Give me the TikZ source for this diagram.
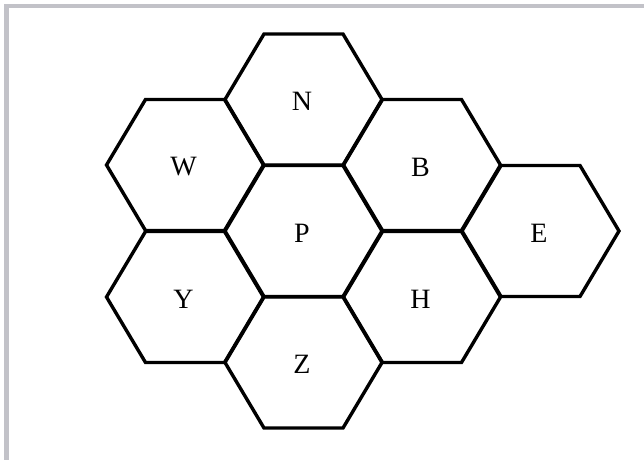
\documentclass[tikz,border=0pt]{standalone}
\usepackage{fontspec}
\setmainfont{Liberation Serif}
\definecolor{framegray}{RGB}{194,194,200}
\begin{document}
\begin{tikzpicture}[x=1pt,y=-1pt,
  hexline/.style={line width=3.4pt, line join=miter},
  lbl/.style={font=\fontsize{28}{28}\selectfont, inner sep=0pt}]
\useasboundingbox (0,0) rectangle (644,460);
\fill[white] (0,0) rectangle (644,460);
\fill[framegray] (4,4) rectangle (644,8.5);
\fill[framegray] (4,4) rectangle (8.5,460);
\foreach \n/\x/\y in {N/303.5/99.5, W/185/165, Y/185/297, P/303.5/231, Z/303.5/362.5, B/422/165, H/422/297, E/540.5/231} {
  \draw[hexline] (\x-78.5,\y) -- (\x-39.5,\y-65.5) -- (\x+39.5,\y-65.5) -- (\x+78.5,\y) -- (\x+39.5,\y+65.5) -- (\x-39.5,\y+65.5) -- cycle;
  \node[lbl] (\n) at (\x-1.5,\y+2) {\n};
}
\end{tikzpicture}
\end{document}
